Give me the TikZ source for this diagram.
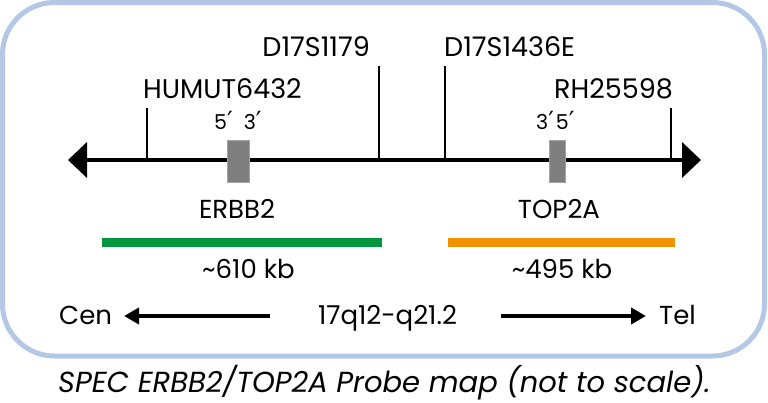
\documentclass[tikz,border=0pt]{standalone}
\usepackage{fontspec}
\setmainfont{Poppins}
\newfontfamily\symfont{DejaVu Sans}
\newcommand{\prm}{{\symfont\fontsize{25}{25}\selectfont ′}}
\usetikzlibrary{arrows.meta, positioning}
\definecolor{cframe}{HTML}{B4C7E7}
\definecolor{cgreen}{HTML}{009640}
\definecolor{corange}{HTML}{F39200}
\definecolor{cgene}{HTML}{7F7F7F}
\definecolor{cgeneline}{HTML}{A3A3A3}
\tikzset{
  frame/.style={draw=cframe, line width=5pt, rounded corners=52pt},
  axis/.style={line width=4pt, {Triangle[length=19pt, width=35pt]}-{Triangle[length=19pt, width=35pt]}},
  tick/.style={line width=2pt},
  gene/.style={draw=cgeneline, fill=cgene, line width=1pt, minimum height=42pt, inner sep=0pt},
  probe/.style={draw=#1, line width=9pt},
  dirarrow/.style={line width=4pt, -{Triangle[length=15pt, width=16pt]}},
  marker/.style={font=\fontsize{27}{27}\selectfont, inner sep=0pt},
  ends/.style={font=\fontsize{20.5}{20.5}\selectfont, inner sep=0pt},
  label/.style={font=\fontsize{26}{26}\selectfont, inner sep=0pt},
  caption/.style={font=\fontsize{29}{29}\selectfont\itshape, inner sep=0pt},
}
\begin{document}
\begin{tikzpicture}[x=1pt, y=-1pt]
  \useasboundingbox (0,0) rectangle (768,402);
  \draw[frame] (2.5,2.5) rectangle (764.5,356);
  % chromosome axis
  \coordinate (cen) at (68,160);
  \coordinate (tel) at (701,160);
  \draw[axis] (cen) -- (tel);
  % markers
  \foreach \name/\x/\h/\lx/\ly/\anc/\txt in {
      humut/147/52/143/98/base west/HUMUT6432,
      dsa/379/94/370/56/base east/D17S1179,
      dsb/445/94/444/56/base west/D17S1436E,
      rh/671/52/673/98/base east/RH25598} {
    \coordinate (\name) at (\x,160);
    \coordinate (\name top) at (\x,160-\h);
    \draw[tick] (\name) -- (\name top);
    \node[marker, anchor=\anc] (\name lbl) at (\lx,\ly) {\txt};
  }
  % genes
  \node[gene, minimum width=22pt] (erbb2) at (238,161) {};
  \node[gene, minimum width=16pt] (top2a) at (557,161) {};
  \node[ends, anchor=base west] (erbb2ends) at (214,129) {5\prm\hspace{11pt}3\prm};
  \node[ends, anchor=base west] (top2aends) at (536,129) {3\prm\hspace{2pt}5\prm};
  \node[label, anchor=base] (erbb2lbl) at (237,218) {ERBB2};
  \node[label, anchor=base] (top2albl) at (559,218) {TOP2A};
  % probes
  \coordinate (gA) at (102,242.5);
  \coordinate (gB) at (382,242.5);
  \coordinate (oA) at (448,242.5);
  \coordinate (oB) at (675,242.5);
  \draw[probe=cgreen] (gA) -- (gB);
  \draw[probe=corange] (oA) -- (oB);
  \node[label, anchor=base] (gsize) at (248.5,278) {\textasciitilde610 kb};
  \node[label, anchor=base] (osize) at (562,278) {\textasciitilde495 kb};
  % orientation
  \node[label, anchor=base west] (cenlbl) at (59,324) {Cen};
  \node[label, anchor=base] (band) at (387.5,324) {17q12-q21.2};
  \node[label, anchor=base west] (tellbl) at (659,324) {Tel};
  \coordinate (lA) at (270,316);
  \coordinate (lB) at (124,316);
  \coordinate (rA) at (501,316);
  \coordinate (rB) at (646,316);
  \draw[dirarrow] (lA) -- (lB);
  \draw[dirarrow] (rA) -- (rB);
  \node[caption, anchor=base west] (cap) at (58,392) {SPEC ERBB2/TOP2A Probe map (not to scale).};
\end{tikzpicture}
\end{document}
